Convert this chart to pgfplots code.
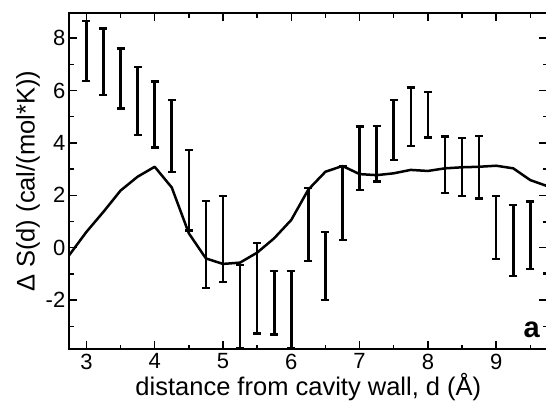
\documentclass[border=0pt]{standalone}
\usepackage{fontspec}
\setmainfont{Liberation Sans}
\usepackage{pgfplots}
\usepackage{pgfplotstable}
\pgfplotsset{compat=1.18}

% mean entropy profile vs distance
\pgfplotstableread{
d s
2.75 -0.28
3.00 0.60
3.25 1.37
3.50 2.18
3.75 2.71
4.00 3.09
4.25 2.30
4.50 0.55
4.75 -0.41
5.00 -0.62
5.25 -0.57
5.50 -0.19
5.75 0.36
6.00 1.06
6.25 2.22
6.50 2.90
6.75 3.12
7.00 2.81
7.25 2.77
7.50 2.84
7.75 2.97
8.00 2.93
8.25 3.03
8.50 3.07
8.75 3.09
9.00 3.13
9.25 3.03
9.50 2.58
9.75 2.35
}\profile

% binned estimates with their uncertainties
\pgfplotstableread{
d mid err
3.00 7.51 1.15
3.25 7.10 1.27
3.50 6.465 1.145
3.75 5.595 1.295
4.00 5.08 1.26
4.25 4.26 1.38
4.50 2.19 1.54
4.75 0.13 1.66
5.00 0.325 1.645
5.25 -2.245 1.585
5.50 -1.55 1.72
5.75 -2.095 1.215
6.00 -2.35 1.47
6.25 0.88 1.39
6.50 -0.705 1.295
6.75 1.705 1.415
7.00 3.41 1.21
7.25 3.585 1.065
7.50 4.495 1.145
7.75 5.00 1.12
8.00 5.08 0.87
8.25 3.16 1.08
8.50 3.075 1.105
8.75 3.07 1.19
9.00 0.765 1.205
9.25 0.275 1.355
9.50 0.47 1.29
9.75 0.005 0.985
}\bins

\begin{document}
\begin{tikzpicture}
\useasboundingbox (0,0) rectangle (546pt,408pt);
\begin{axis}[
  at={(69.3pt,58.7pt)}, anchor=south west,
  scale only axis,
  width=478.1pt, height=336pt,
  xmin=2.75, xmax=9.75,
  ymin=-3.88, ymax=8.95,
  xtick={3,...,9},
  minor xtick={3.5,4.5,...,9.5},
  ytick={-2,0,...,8},
  minor ytick={-3,-1,...,7},
  tick align=inside,
  major tick length=8pt,
  minor tick length=4.5pt,
  every tick/.style={black, line width=1.4pt},
  axis line style={line width=1.8pt},
  tick label style={font=\fontsize{22}{22}\selectfont},
  /pgf/number format/assume math mode=true,
  xticklabel style={yshift=-1pt},
  yticklabel style={xshift=-0.5pt},
  label style={font=\fontsize{25.5}{25.5}\selectfont},
  xlabel={distance from cavity wall, d (Å)},
  ylabel={Δ S(d) (cal/(mol*K))},
  xlabel style={yshift=3pt},
  ylabel style={yshift=-1pt},
]
\addplot[black, line width=2.5pt, line join=round] table[x=d, y=s] {\profile};
\addplot[black, draw=none, mark=none,
  error bars/.cd, y dir=both, y explicit,
  error bar style={line width=2.6pt},
  error mark options={black, rotate=90, mark size=4pt, line width=2.4pt}]
  table[x=d, y=mid, y error=err] {\bins};
\node[font=\bfseries\fontsize{29}{29}\selectfont] at (axis cs:9.52,-3.14) {a};
\end{axis}
\end{tikzpicture}
\end{document}
